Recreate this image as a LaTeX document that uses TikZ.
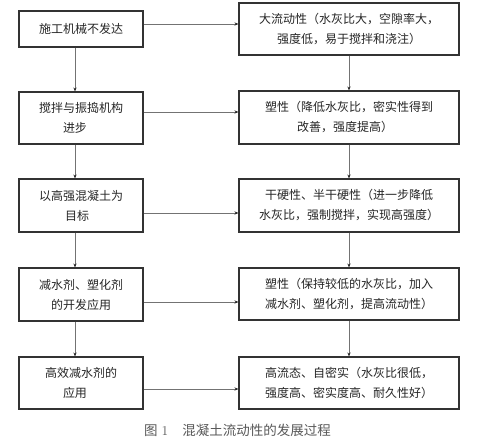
\documentclass[tikz,border=0pt]{standalone}
\usepackage{fontspec}
\newfontfamily\cjk{Noto Sans CJK SC}
\usetikzlibrary{arrows.meta}
\begin{document}
\begin{tikzpicture}[x=1pt,y=-1pt,
  box/.style={draw=black!80, line width=1.1pt, inner sep=0pt, align=center,
    font=\cjk\fontsize{12}{20}\selectfont, text=black!85},
  lbox/.style={box, minimum width=124pt, text width=122pt},
  rbox/.style={box, minimum width=220pt, text width=218pt},
  arr/.style={draw=black!55, line width=0.8pt, -{Stealth[length=4pt,width=3.2pt,black!85]}}
]
\useasboundingbox[fill=white] (0,0) rectangle (504,440);
% left column
\node[lbox, minimum height=36pt] (l1) at (81,29) {施工机械不发达};
\node[lbox, minimum height=52pt] (l2) at (81,118) {搅拌与振捣机构\hspace*{12pt}\\进步\hspace*{12pt}};
\node[lbox, minimum height=53pt] (l3) at (81,205.5) {以高强混凝土为\hspace*{8pt}\\目标\hspace*{8pt}};
\node[lbox, minimum height=53pt] (l4) at (81,294.5) {减水剂、塑化剂\\的开发应用};
\node[lbox, minimum height=52pt] (l5) at (81,383) {高效减水剂的\hspace*{12pt}\\应用\hspace*{12pt}};
% right column
\node[rbox, minimum height=52pt] (r1) at (349,29) {大流动性（水灰比大，空隙率大，\hspace*{8pt}\\强度低，易于搅拌和浇注）};
\node[rbox, minimum height=53pt] (r2) at (349,117.5) {塑性（降低水灰比，密实性得到\hspace*{8pt}\\改善，强度提高）\hspace*{8pt}};
\node[rbox, minimum height=53pt] (r3) at (349,205.5) {干硬性、半干硬性（进一步降低\\水灰比，强制搅拌，实现高强度）};
\node[rbox, minimum height=52pt] (r4) at (349,294) {塑性（保持较低的水灰比，加入\\减水剂、塑化剂，提高流动性）};
\node[rbox, minimum height=52pt] (r5) at (349,383) {高流态、自密实（水灰比很低，\\强度高、密实度高、耐久性好）};
% vertical arrows
\draw[arr] ([xshift=-6pt]l1.south) -- ([xshift=-6pt]l2.north);
\draw[arr] ([xshift=-6pt]l2.south) -- ([xshift=-6pt]l3.north);
\draw[arr] ([xshift=-6pt]l3.south) -- ([xshift=-6pt]l4.north);
\draw[arr] ([xshift=-6pt]l4.south) -- ([xshift=-6pt]l5.north);
\draw[arr] (r1.south) -- (r2.north);
\draw[arr] (r2.south) -- (r3.north);
\draw[arr] (r3.south) -- (r4.north);
\draw[arr] (r4.south) -- (r5.north);
% horizontal arrows
\draw[arr] ([yshift=5pt]l1.east) -- ([yshift=5pt]l1.east -| r1.west);
\draw[arr] ([yshift=6pt]l2.east) -- ([yshift=6pt]l2.east -| r2.west);
\draw[arr] ([yshift=-7.5pt]l3.east) -- ([yshift=-7.5pt]l3.east -| r3.west);
\draw[arr] ([yshift=-7.5pt]l4.east) -- ([yshift=-7.5pt]l4.east -| r4.west);
\draw[arr] ([yshift=-6pt]l5.east) -- ([yshift=-6pt]l5.east -| r5.west);
% caption
\node[anchor=west, inner sep=0pt, text=black!65, font=\fontsize{13.5}{16}\selectfont] (cap) at (144,430)
  {{\cjk 图}\hspace{4pt}1\hspace{14pt}{\cjk 混凝土流动性的发展过程}};
\end{tikzpicture}
\end{document}
